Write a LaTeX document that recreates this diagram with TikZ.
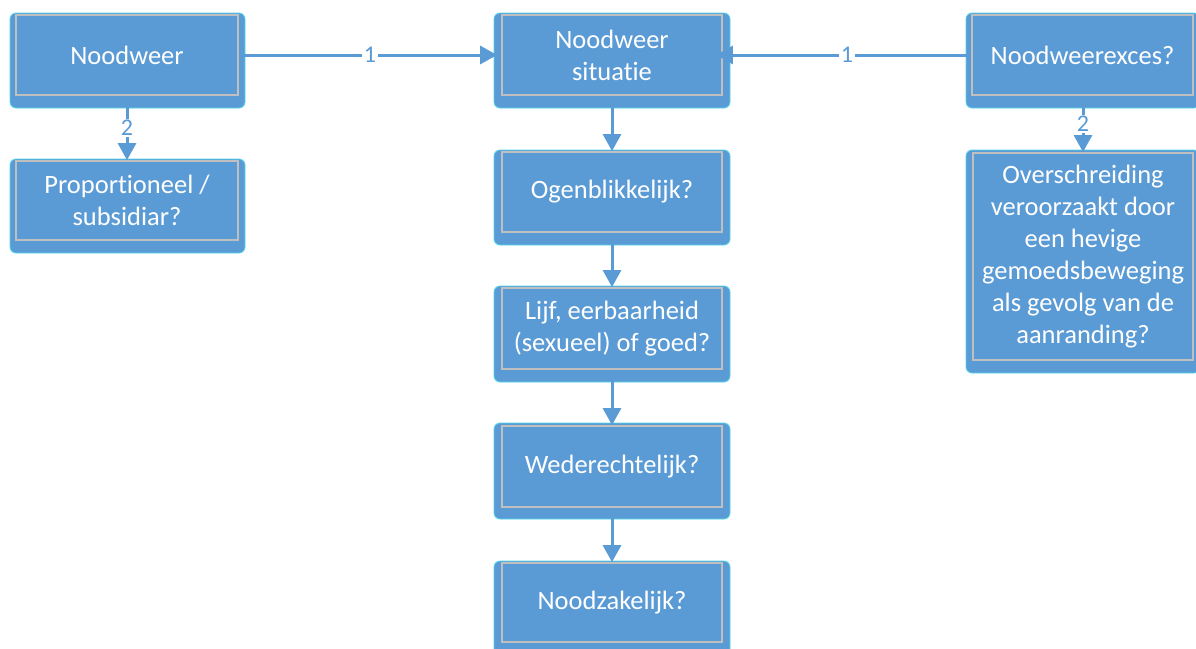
\documentclass[tikz,border=0pt]{standalone}
\usepackage{fontspec}
\setmainfont{Carlito}[Ligatures={NoCommon}]
\usetikzlibrary{arrows.meta}
\definecolor{boxblue}{HTML}{5B9BD5}
\definecolor{innerline}{HTML}{BFBFBF}
\definecolor{edgecyan}{HTML}{4FD8E8}
\definecolor{linkblue}{HTML}{5B9BD5}
\tikzset{
  backing/.style={fill=boxblue, draw=edgecyan, line width=0.8pt, rounded corners=6pt},
  inbox/.style={draw=innerline, line width=1.8pt, fill=boxblue, text=white,
    font=\fontsize{26.5}{32}\selectfont, align=center, inner sep=0pt},
  link/.style={draw=linkblue, line width=3pt,
    -{Triangle[width=18pt,length=17pt]}},
  lab/.style={fill=white, text=linkblue, font=\fontsize{24}{27}\selectfont,
    inner sep=1.5pt}
}
\begin{document}
\begin{tikzpicture}[x=1pt,y=-1pt]
\useasboundingbox (0,0) rectangle (1196,648);
\begin{scope}
\clip (0,0) rectangle (1196,648);
% backings
\fill[backing] (10,13) rectangle (245,108);
\fill[backing] (494,13) rectangle (730,108);
\fill[backing] (966,13) rectangle (1200,108);
\fill[backing] (10,159) rectangle (245,253);
\fill[backing] (494,150) rectangle (730,245);
\fill[backing] (494,286) rectangle (730,382);
\fill[backing] (494,423) rectangle (730,519);
\fill[backing] (494,561) rectangle (730,656);
\fill[backing] (966,150) rectangle (1200,373);
% nodes
\node[inbox, minimum width=222pt, minimum height=80pt] (nw) at (127,55) {Noodweer};
\node[inbox, minimum width=220pt, minimum height=80pt] (sit) at (612,55) {Noodweer\\situatie};
\node[inbox, minimum width=221pt, minimum height=80pt] (exc) at (1082.5,55) {Noodweerexces?};
\node[inbox, minimum width=222pt, minimum height=79pt] (prop) at (127,200.5) {Proportioneel /\\subsidiar?};
\node[inbox, minimum width=220pt, minimum height=80pt] (ogen) at (612,192) {Ogenblikkelijk?};
\node[inbox, minimum width=220pt, minimum height=81pt] (lijf) at (612,328.5) {Lijf, eerbaarheid\\(sexueel) of goed?};
\node[inbox, minimum width=220pt, minimum height=81pt] (wed) at (612,466.5) {Wederechtelijk?};
\node[inbox, minimum width=220pt, minimum height=79pt] (nood) at (612,602.5) {Noodzakelijk?};
\node[inbox, minimum width=220pt, minimum height=207pt] (over) at (1083,256.5)
  {Overschreiding\\veroorzaakt door\\een hevige\\gemoedsbeweging\\als gevolg van de\\aanranding?};
% connectors
\draw[link, shorten >=4pt] (nw.east) -- node[lab] {1} (sit.west);
\draw[link, shorten >=-7pt] (exc.west) -- node[lab] {1} (sit.east);
\draw[link] (nw.south) -- node[lab] {2} (prop.north);
\draw[link] (exc.south -| over.north) -- node[lab] {2} (over.north);
\draw[link] (sit.south) -- (ogen.north);
\draw[link] (ogen.south) -- (lijf.north);
\draw[link] (lijf.south) -- (wed.north);
\draw[link] (wed.south) -- (nood.north);
\end{scope}
\end{tikzpicture}
\end{document}
